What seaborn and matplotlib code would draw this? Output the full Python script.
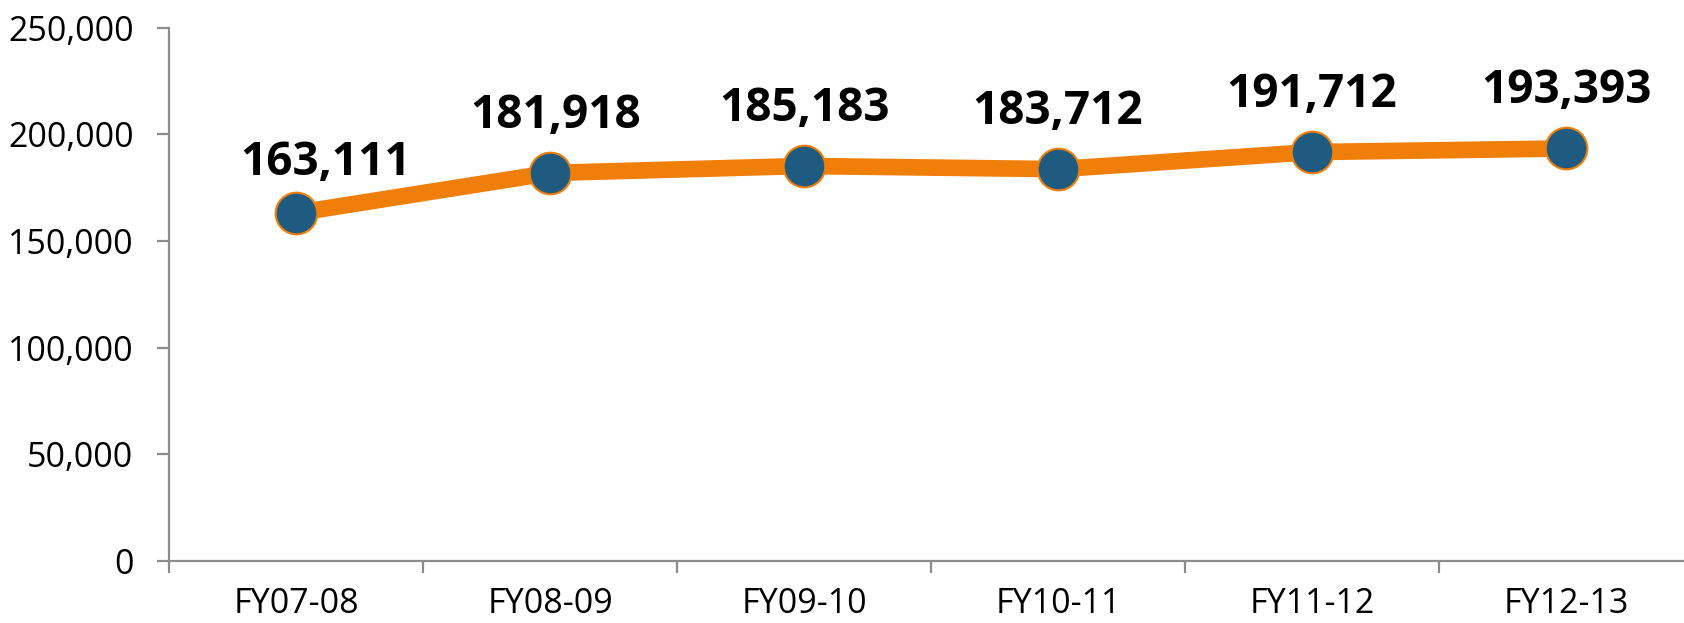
import numpy as np
import pandas as pd
import matplotlib
matplotlib.use("Agg")
import matplotlib.pyplot as plt
import seaborn as sns
from matplotlib.ticker import FuncFormatter

categories = ["FY07-08", "FY08-09", "FY09-10", "FY10-11", "FY11-12", "FY12-13"]
values = [163111, 181918, 185183, 183712, 191712, 193393]
y_ticks = [0, 50000, 100000, 150000, 200000, 250000]

sns.set_theme(style="white")
plt.rcParams["font.family"] = ["Open Sans", "DejaVu Sans"]

df = pd.DataFrame({"year": categories, "count": values})

fig = plt.figure(figsize=(16.84, 6.23), dpi=100)
ax = fig.add_axes([0.1004, 0.0995, 0.905, 0.856])

line_color = "#F07F09"
marker_color = "#1F5A80"
axis_color = "#8C8C8C"

sns.lineplot(data=df, x="year", y="count", ax=ax, color=line_color, linewidth=12,
             marker="o", markersize=30, markerfacecolor=marker_color,
             markeredgecolor=line_color, markeredgewidth=1.5, sort=False)

ax.set_xlim(-0.5, len(categories) - 0.5)
ax.set_ylim(0, 250000)
ax.set_yticks(y_ticks)
ax.yaxis.set_major_formatter(FuncFormatter(lambda v, p: f"{int(v):,}"))
ax.set_xticks(range(len(categories)))
ax.set_xticklabels(categories)
ax.set_xticks(np.arange(-0.5, len(categories), 1), minor=True)

ax.set_xlabel("")
ax.set_ylabel("")
for s in ["top", "right"]:
    ax.spines[s].set_visible(False)
for s in ["left", "bottom"]:
    ax.spines[s].set_color(axis_color)
    ax.spines[s].set_linewidth(1.6)

ax.tick_params(axis="y", which="major", direction="out", length=8.6, width=1.6,
               color=axis_color, labelsize=24.5, pad=17, left=True, labelcolor="black")
ax.tick_params(axis="x", which="major", length=0, labelsize=24.5, pad=19, labelcolor="black")
ax.tick_params(axis="x", which="minor", direction="out", length=8.6, width=1.6,
               color=axis_color, bottom=True)

offsets = [(21.6, 27.4), (4, 32.4), (0, 32.4), (0, 32.4), (0, 32.4), (0, 32.4)]
for i, (v, off) in enumerate(zip(values, offsets)):
    ax.annotate(f"{v:,}", xy=(i, v), xytext=off, textcoords="offset points",
                ha="center", va="baseline", fontsize=33, fontweight="bold", color="black")

fig.savefig("out.png", dpi=100)
